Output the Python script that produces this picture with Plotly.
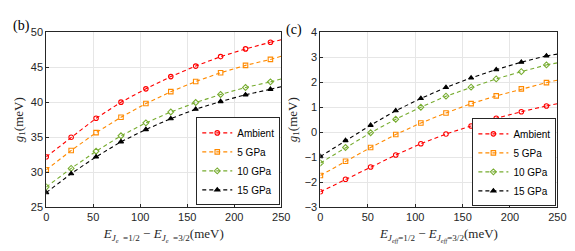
import plotly.graph_objects as go

# x positions of markers (meV) and line end
x_pts = [0, 26.5, 53, 79.5, 106, 132.5, 159, 185.5, 212, 238.5]
x_end = 250

series_names = ["Ambient", "5 GPa", "10 GPa", "15 GPa"]

# panel (b): g1 (meV)
b_amb = [32.2, 35.0, 37.7, 40.0, 41.9, 43.65, 45.15, 46.5, 47.6, 48.55]
b_5 = [30.35, 33.1, 35.65, 37.85, 39.8, 41.5, 42.95, 44.2, 45.25, 46.1]
b_10 = [27.9, 30.55, 33.0, 35.2, 37.05, 38.6, 39.95, 41.1, 42.1, 42.9]
b_15 = [27.1, 29.8, 32.2, 34.35, 36.1, 37.65, 39.0, 40.1, 41.05, 41.85]
b_end = [48.9, 46.55, 43.3, 42.2]

# panel (c): g1 (meV)
c_amb = [-2.38, -1.88, -1.39, -0.91, -0.46, -0.07, 0.25, 0.56, 0.82, 1.05]
c_5 = [-1.73, -1.16, -0.61, -0.09, 0.37, 0.77, 1.14, 1.45, 1.73, 1.98]
c_10 = [-1.23, -0.61, -0.02, 0.52, 1.0, 1.44, 1.8, 2.13, 2.42, 2.69]
c_15 = [-0.97, -0.33, 0.28, 0.86, 1.35, 1.79, 2.17, 2.5, 2.8, 3.05]
c_end = [1.14, 2.08, 2.77, 3.12]

colors = ["#FF0000", "#FF8A00", "#77AC30", "#000000"]
symbols = ["circle-open", "square-open", "diamond-open", "triangle-up"]

fig = go.Figure()

def add_panel(ys, ends, xa, ya, legend):
    for name, y, e, c, s in zip(series_names, ys, ends, colors, symbols):
        fig.add_trace(go.Scatter(
            x=x_pts, y=y, mode="lines+markers", name=name,
            line=dict(color=c, width=1.1, dash="4px,3px"),
            marker=dict(symbol=s, size=4.5, color=c, line=dict(color=c, width=1.1)),
            xaxis=xa, yaxis=ya, legend=legend))
        fig.add_trace(go.Scatter(
            x=[x_pts[-1], x_end], y=[y[-1], e], mode="lines", showlegend=False,
            line=dict(color=c, width=1.1, dash="4px,3px"),
            xaxis=xa, yaxis=ya, hoverinfo="skip"))

add_panel([b_amb, b_5, b_10, b_15], b_end, "x", "y", "legend")
add_panel([c_amb, c_5, c_10, c_15], c_end, "x2", "y2", "legend2")

tickfont = dict(family="Liberation Sans, Arial", size=11, color="#262626")
axcommon = dict(showline=True, linecolor="#262626", linewidth=1, mirror=True,
                showgrid=True, gridcolor="#e6e6e6", gridwidth=1, zeroline=False,
                ticks="inside", ticklen=3, tickcolor="#262626", tickfont=tickfont)
titlefont = dict(family="Liberation Serif, Times New Roman", size=13, color="#262626")

ytop = 1 - 19 / 251
ybot = 1 - 203 / 251

legfont = dict(family="Liberation Sans, Arial", size=10, color="#000")

fig.update_layout(
    width=575, height=251,
    margin=dict(l=0, r=0, t=0, b=0),
    paper_bgcolor="white", plot_bgcolor="white",
    xaxis=dict(domain=[36 / 575, 276 / 575], range=[0, 250], dtick=50, anchor="y",
               title=dict(text="<i>E</i><sub><i>J<sub>e</sub></i>  =1/2</sub> − <i>E</i><sub><i>J<sub>e</sub></i>  =3/2</sub>(meV)",
                          font=titlefont, standoff=6), **axcommon),
    yaxis=dict(domain=[ybot, ytop], range=[25, 50], dtick=5, anchor="x",
               title=dict(text="<i>g</i><sub>1</sub>(meV)", font=titlefont, standoff=4), **axcommon),
    xaxis2=dict(domain=[316 / 575, 558 / 575], range=[0, 250], dtick=50, anchor="y2",
                title=dict(text="<i>E</i><sub><i>J<sub>eff</sub></i>=1/2</sub> − <i>E</i><sub><i>J<sub>eff</sub></i>=3/2</sub>(meV)",
                           font=titlefont, standoff=6), **axcommon),
    yaxis2=dict(domain=[ybot, ytop], range=[-3, 4], dtick=1, anchor="x2",
                title=dict(text="<i>g</i><sub>1</sub>(meV)", font=titlefont, standoff=4), **axcommon),
    legend=dict(x=275 / 575, xanchor="right", y=1 - 201 / 251, yanchor="bottom",
                bgcolor="white", bordercolor="#262626", borderwidth=1,
                font=legfont, tracegroupgap=0, itemwidth=30),
    legend2=dict(x=557 / 575, xanchor="right", y=1 - 202 / 251, yanchor="bottom",
                 bgcolor="white", bordercolor="#262626", borderwidth=1,
                 font=legfont, tracegroupgap=0, itemwidth=30),
    annotations=[
        dict(text="(b)", x=0, y=1 - 2 / 251, xref="paper", yref="paper", xanchor="left", yanchor="top",
             showarrow=False, font=dict(family="Liberation Serif", size=14, color="#000")),
        dict(text="(c)", x=279 / 575, y=1 - 6 / 251, xref="paper", yref="paper", xanchor="left", yanchor="top",
             showarrow=False, font=dict(family="Liberation Serif", size=14, color="#000")),
    ],
)

fig.write_html("out.html")
